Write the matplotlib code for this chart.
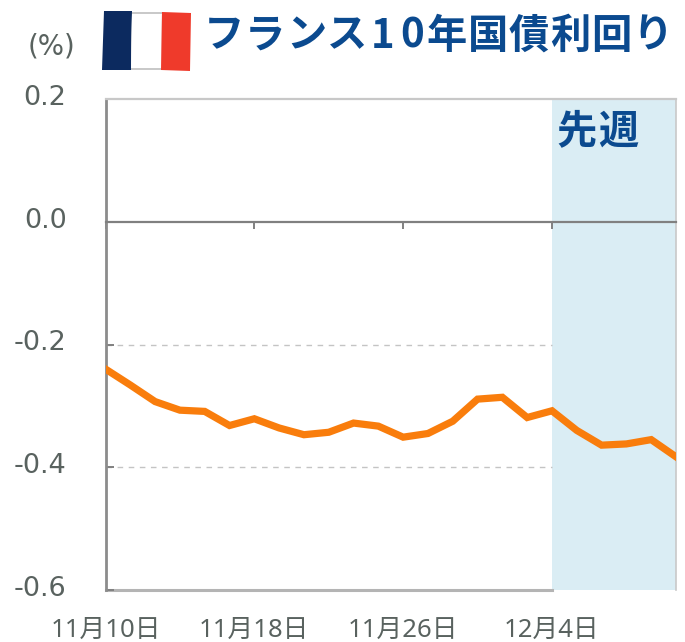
import numpy as np
import matplotlib
matplotlib.use("Agg")
import matplotlib.pyplot as plt
from matplotlib.patches import Polygon
from matplotlib.transforms import ScaledTranslation

plt.rcParams['font.family'] = ['DejaVu Sans', 'Noto Sans CJK JP']

yields = [-0.240, -0.266, -0.293, -0.307, -0.309, -0.332, -0.321, -0.336,
          -0.347, -0.343, -0.328, -0.333, -0.351, -0.345, -0.325, -0.289,
          -0.286, -0.319, -0.308, -0.340, -0.364, -0.362, -0.355, -0.383]
tick_idx = [0, 6, 12, 18]
tick_labels = ['11月10日', '11月18日', '11月26日', '12月4日']
y_ticks = [0.2, 0.0, -0.2, -0.4, -0.6]
y_labels = ['0.2', '0.0', '-0.2', '-0.4', '-0.6']
grid_levels = [-0.2, -0.4]
last_week_start = 18
title = 'フランス10年国債利回り'
band_label = '先週'

W, H = 685, 642
TEXT = '#59625f'
NAVY = '#0b4a8f'

fig = plt.figure(figsize=(W / 100, H / 100), dpi=100)
ax = fig.add_axes([105.5 / W, 1 - 590 / H, 570.5 / W, 491 / H])

x = np.arange(len(yields))
ax.set_xlim(0, len(yields) - 1)
ax.set_ylim(-0.6, 0.2)

# last week band
ax.axvspan(last_week_start, len(yields) - 1, color='#daedf4', lw=0, zorder=0)

for lev in grid_levels:
    ax.plot([0, last_week_start], [lev, lev], color='#c4c4c4', lw=1, ls=(0, (4, 4)), zorder=1)
ax.plot([0, last_week_start], [-0.6, -0.6], color='#b4b4b4', lw=2.2, zorder=1, clip_on=False)

ax.plot(x, yields, color='#f97d0c', lw=5.2, solid_joinstyle='miter', zorder=3)

# spines: x axis crosses at zero
ax.spines['bottom'].set_position(('data', 0))
ax.spines['bottom'].set_color('#808080')
ax.spines['bottom'].set_linewidth(1.6)
ax.spines['left'].set_color('#8c8c8c')
ax.spines['left'].set_linewidth(2)
ax.spines['top'].set_color('#c8c8c8')
ax.spines['top'].set_linewidth(1.6)
ax.spines['right'].set_color('#c8c8c8')
ax.spines['right'].set_linewidth(1.2)

ax.set_xticks(tick_idx)
ax.set_xticklabels(tick_labels, family=['Noto Sans', 'Noto Sans CJK JP'])
ax.tick_params(axis='x', direction='out', length=5, width=1.4, color='#808080',
               labelsize=18.5, labelcolor=TEXT, pad=280)
ax.set_yticks(y_ticks)
ax.set_yticklabels(y_labels)
ax.tick_params(axis='y', direction='in', length=6, width=1.4, color='#808080',
               labelsize=19.5, labelcolor=TEXT, pad=28)
shift = ScaledTranslation(0, 3 / 72, fig.dpi_scale_trans)
for lab in ax.get_yticklabels():
    lab.set_transform(lab.get_transform() + shift)


# wide tracked text, one glyph at a time
def tracked(text, cx, cy, size=29, full=41, half=29.5):
    prev = None
    for ch in text:
        w = half if ch.isascii() else full
        if prev is not None:
            cx += (prev + w) / 2
        fig.text(cx / W, 1 - cy / H, ch, fontsize=size, fontweight='bold', color=NAVY,
                 family=['Noto Sans CJK JP'], va='center', ha='center')
        prev = w


tracked(title, 224, 36)
tracked(band_label, 577, 132)
fig.text(28 / W, 1 - 47 / H, '(%)', fontsize=20, color=TEXT, va='center', ha='left')


# hand-drawn looking flag
def flag_part(pts, colour):
    px = [(a / W, 1 - b / H) for a, b in pts]
    fig.add_artist(Polygon(px, closed=True, transform=fig.transFigure, facecolor=colour,
                           edgecolor='none'))


flag_part([(104, 11), (132, 11), (131, 70), (102, 70)], '#0c2a5f')
flag_part([(132, 12), (162, 12), (161, 70), (131, 70)], '#c9c9c9')
flag_part([(132, 14), (162, 14), (161, 68), (131, 68)], '#ffffff')
flag_part([(162, 12), (191, 13), (190, 71), (161, 70)], '#ef3a2b')

fig.savefig('out.png', dpi=100)
